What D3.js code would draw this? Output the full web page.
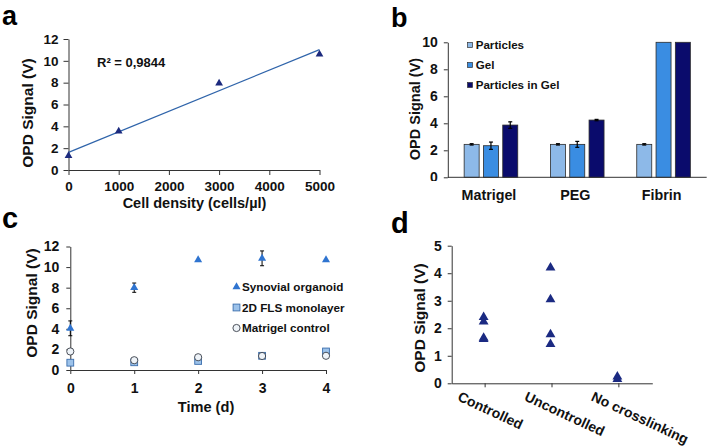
<!DOCTYPE html>
<html><head><meta charset="utf-8">
<script src="https://cdn.jsdelivr.net/npm/d3@7"></script>
<style>
html,body{margin:0;padding:0;background:#fff;}
svg{display:block;font-family:"Liberation Sans",Arial,sans-serif;font-weight:bold;}
</style></head><body>
<svg id="fig" width="709" height="446"></svg>
<script>
// ---------- Panel a data ----------
const aDensity = [0, 1000, 3000, 5000];
const aSignal = [1.3, 3.55, 7.95, 10.6];
const aXTicks = [0, 1000, 2000, 3000, 4000, 5000];
const aYTicks = [0, 2, 4, 6, 8, 10, 12];
const aR2Label = "R² = 0,9844";

// ---------- Panel b data ----------
const bCategories = ["Matrigel", "PEG", "Fibrin"];
const bSeries = ["Particles", "Gel", "Particles in Gel"];
const bParticles = [2.44, 2.44, 2.44];
const bGel = [2.34, 2.44, 10];
const bParticlesInGel = [3.87, 4.24, 10];
const bParticlesErr = [0.05, 0.05, 0.05];
const bGelErr = [0.27, 0.22, 0];
const bParticlesInGelErr = [0.24, 0.05, 0];
const bYTicks = [0, 2, 4, 6, 8, 10];

// ---------- Panel c data ----------
const cDays = [0, 1, 2, 3, 4];
const cSynovial = [4.05, 8.0, 10.7, 10.85, 10.7];
const cSynovialErr = [0.72, 0.45, 0, 0.72, 0];
const cFLS = [0.71, 0.75, 0.88, 1.38, 1.8];
const cFLSErr = [0, 0, 0, 0, 0.22];
const cMatrigel = [1.8, 0.95, 1.24, 1.36, 1.38];
const cSeries = ["Synovial organoid", "2D FLS monolayer", "Matrigel control"];
const cXTicks = [0, 1, 2, 3, 4];
const cYTicks = [0, 2, 4, 6, 8, 10, 12];

// ---------- Panel d data ----------
const dCategories = ["Controlled", "Uncontrolled", "No crosslinking"];
const dControlled = [2.4, 2.24, 1.6, 1.65];
const dUncontrolled = [4.2, 3.05, 1.78, 1.42];
const dNoCrosslinking = [0.24, 0.15];
const dYTicks = [0, 1, 2, 3, 4, 5];

const svg = d3.select("#fig");
const AX = "#333";
const tri = d3.symbol().type(d3.symbolTriangle);
const plain = d => String(d);

function styleAxis(g, fs) {
  g.select(".domain").attr("stroke", AX).attr("stroke-width", 1);
  g.selectAll(".tick line").attr("stroke", AX).attr("stroke-width", 1);
  g.selectAll(".tick text").attr("fill", "#111").attr("font-size", fs)
    .attr("font-family", '"Liberation Sans",Arial,sans-serif').attr("font-weight", "bold");
}
function panelLabel(t, x, y, fs) {
  svg.append("text").attr("x", x).attr("y", y).attr("font-size", fs).attr("fill", "#000").text(t);
}
function yTitle(x, y, fs) {
  svg.append("text").attr("transform", `translate(${x},${y}) rotate(-90)`)
    .attr("text-anchor", "middle").attr("font-size", fs).attr("fill", "#111").text("OPD Signal (V)");
}

// ================= Panel a =================
{
  const x = d3.scaleLinear().domain([0, 5000]).range([68.5, 319.5]);
  const y = d3.scaleLinear().domain([0, 12]).range([170, 39]);
  const g = svg.append("g");
  const gy = g.append("g").attr("transform", `translate(${x(0)},0)`)
    .call(d3.axisLeft(y).tickValues(aYTicks).tickFormat(plain).tickSize(5).tickSizeOuter(0).tickPadding(5));
  styleAxis(gy, 13.5);
  const gx = g.append("g").attr("transform", `translate(0,${y(0)})`)
    .call(d3.axisBottom(x).tickValues(aXTicks).tickFormat(plain).tickSize(5).tickSizeOuter(0).tickPadding(6));
  styleAxis(gx, 13.5);
  // linear regression trendline computed from the data
  const mx = d3.mean(aDensity), my = d3.mean(aSignal);
  const slope = d3.sum(aDensity, (d, i) => (d - mx) * (aSignal[i] - my)) / d3.sum(aDensity, d => (d - mx) ** 2);
  const icpt = my - slope * mx;
  g.append("line").attr("x1", x(0)).attr("y1", y(icpt)).attr("x2", x(5000)).attr("y2", y(icpt + slope * 5000))
    .attr("stroke", "#2F64AA").attr("stroke-width", 1.2);
  g.selectAll(".pa").data(aDensity).join("path")
    .attr("d", tri.size(26)).attr("transform", (d, i) => `translate(${x(d)},${y(aSignal[i])})`)
    .attr("fill", "#1C2A7E");
  g.append("text").attr("x", 97).attr("y", 67).attr("font-size", 13).attr("fill", "#111").text(aR2Label);
  yTitle(33, 113, 15.5);
  g.append("text").attr("x", 194.5).attr("y", 208).attr("text-anchor", "middle").attr("font-size", 14.5)
    .attr("fill", "#111").text("Cell density (cells/µl)");
  panelLabel("a", 2, 24.5, 27);
}

// ================= Panel b =================
{
  const x = d3.scaleBand().domain(bCategories).range([447.8, 706.7]);
  const y = d3.scaleLinear().domain([0, 10]).range([177.3, 42.3]);
  const colors = ["#8DB9E8", "#3A8DE2", "#0A0B6C"];
  const vals = [bParticles, bGel, bParticlesInGel];
  const errs = [bParticlesErr, bGelErr, bParticlesInGelErr];
  const barW = 15, step = 19.3;
  const g = svg.append("g");
  svg.append("defs").append("clipPath").attr("id", "clipB").append("rect")
    .attr("x", 380).attr("y", 0).attr("width", 120).attr("height", 181);
  const gy = g.append("g").attr("clip-path", "url(#clipB)").append("g").attr("transform", `translate(${x.range()[0]},0)`)
    .call(d3.axisLeft(y).tickValues(bYTicks).tickFormat(plain).tickSize(4).tickSizeOuter(0).tickPadding(6));
  styleAxis(gy, 14);
  bSeries.forEach((s, si) => {
    const cx = c => x(c) + x.bandwidth() / 2 + (si - 1) * step;
    g.selectAll(".bar" + si).data(bCategories).join("rect")
      .attr("x", c => cx(c) - barW / 2).attr("width", barW)
      .attr("y", (c, i) => y(vals[si][i])).attr("height", (c, i) => y(0) - y(vals[si][i]))
      .attr("fill", colors[si]).attr("stroke", "#2b2b2b").attr("stroke-width", 0.8);
    bCategories.forEach((c, i) => {
      const e = errs[si][i];
      if (e <= 0) return;
      const v = vals[si][i];
      g.append("line").attr("x1", cx(c)).attr("x2", cx(c)).attr("y1", y(v + e)).attr("y2", y(v - e))
        .attr("stroke", "#000").attr("stroke-width", 1.2);
      [v + e, v - e].forEach(t => g.append("line").attr("x1", cx(c) - 2).attr("x2", cx(c) + 2)
        .attr("y1", y(t)).attr("y2", y(t)).attr("stroke", "#000").attr("stroke-width", 1.2));
    });
  });
  g.append("line").attr("x1", x.range()[0]).attr("x2", x.range()[1]).attr("y1", y(0)).attr("y2", y(0))
    .attr("stroke", AX).attr("stroke-width", 1);
  g.selectAll(".bl").data(bCategories).join("text")
    .attr("x", c => x(c) + x.bandwidth() / 2 - 2).attr("y", 200).attr("text-anchor", "middle")
    .attr("font-size", 14.3).attr("fill", "#111").text(c => c);
  bSeries.forEach((s, si) => {
    const ly = 45 + si * 20;
    g.append("rect").attr("x", 467.5).attr("y", ly - 2.5).attr("width", 5).attr("height", 5)
      .attr("fill", colors[si]).attr("stroke", "#333").attr("stroke-width", 0.7);
    g.append("text").attr("x", 475.7).attr("y", ly + 4).attr("font-size", 11.6).attr("fill", "#111").text(s);
  });
  yTitle(420, 109, 14.5);
  panelLabel("b", 391, 27, 27);
}

// ================= Panel c =================
{
  const x = d3.scaleLinear().domain([0, 4]).range([70.3, 326]);
  const y = d3.scaleLinear().domain([0, 12]).range([370, 246.5]);
  const g = svg.append("g");
  const gy = g.append("g").attr("transform", `translate(${x(0)},0)`)
    .call(d3.axisLeft(y).tickValues(cYTicks).tickFormat(plain).tickSize(4).tickSizeOuter(0).tickPadding(7));
  styleAxis(gy, 14);
  const gx = g.append("g").attr("transform", `translate(0,${y(0)})`)
    .call(d3.axisBottom(x).tickValues(cXTicks).tickFormat(plain).tickSize(4).tickSizeOuter(0).tickPadding(9));
  styleAxis(gx, 14);
  const err = (vals, errs) => cDays.forEach((d, i) => {
    const e = errs[i]; if (e <= 0) return; const v = vals[i];
    g.append("line").attr("x1", x(d)).attr("x2", x(d)).attr("y1", y(v + e)).attr("y2", y(v - e)).attr("stroke", "#000").attr("stroke-width", 1);
    [v + e, v - e].forEach(t => g.append("line").attr("x1", x(d) - 2).attr("x2", x(d) + 2).attr("y1", y(t)).attr("y2", y(t)).attr("stroke", "#000").attr("stroke-width", 1));
  });
  err(cSynovial, cSynovialErr);
  err(cFLS, cFLSErr);
  g.selectAll(".sq").data(cDays).join("rect")
    .attr("x", d => x(d) - 3.4).attr("y", (d, i) => y(cFLS[i]) - 3.4).attr("width", 6.8).attr("height", 6.8)
    .attr("fill", "#9CC2EA").attr("stroke", "#3B6EAD").attr("stroke-width", 0.9);
  g.selectAll(".ci").data(cDays).join("circle")
    .attr("cx", d => x(d)).attr("cy", (d, i) => y(cMatrigel[i])).attr("r", 3.6)
    .attr("fill", "#EEF3F8").attr("stroke", "#3a3f4a").attr("stroke-width", 0.9);
  g.selectAll(".tr").data(cDays).join("path")
    .attr("d", tri.size(28)).attr("transform", (d, i) => `translate(${x(d)},${y(cSynovial[i])})`)
    .attr("fill", "#2F74D0");
  const lx = 236.5, lys = [287, 307.5, 328];
  g.append("path").attr("d", tri.size(28)).attr("transform", `translate(${lx},${lys[0]})`).attr("fill", "#2F74D0");
  g.append("rect").attr("x", lx - 3.4).attr("y", lys[1] - 3.4).attr("width", 6.8).attr("height", 6.8)
    .attr("fill", "#9CC2EA").attr("stroke", "#3B6EAD").attr("stroke-width", 0.9);
  g.append("circle").attr("cx", lx).attr("cy", lys[2]).attr("r", 3.6).attr("fill", "#EEF3F8").attr("stroke", "#3a3f4a").attr("stroke-width", 0.9);
  cSeries.forEach((s, i) => g.append("text").attr("x", 242).attr("y", lys[i] + 4.3).attr("font-size", 11.7).attr("fill", "#111").text(s));
  yTitle(37, 303, 15.5);
  g.append("text").attr("x", 206).attr("y", 412).attr("text-anchor", "middle").attr("font-size", 14.6).attr("fill", "#111").text("Time (d)");
  panelLabel("c", 2, 228, 29);
}

// ================= Panel d =================
{
  const x = d3.scaleBand().domain(dCategories).range([451.7, 652.3]);
  const y = d3.scaleLinear().domain([0, 5]).range([383.3, 245.7]);
  const g = svg.append("g");
  const gy = g.append("g").attr("transform", `translate(${x.range()[0]},0)`)
    .call(d3.axisLeft(y).tickValues(dYTicks).tickFormat(plain).tickSize(4).tickSizeOuter(0).tickPadding(6));
  styleAxis(gy, 14);
  const gx = g.append("g").attr("transform", `translate(0,${y(0)})`)
    .call(d3.axisBottom(x).tickSize(4).tickSizeOuter(0).tickFormat(""));
  styleAxis(gx, 14);
  const cx = c => x(c) + x.bandwidth() / 2 - 1.5;
  const groups = [dControlled, dUncontrolled, dNoCrosslinking];
  dCategories.forEach((c, ci) => {
    g.selectAll(".dt" + ci).data(groups[ci]).join("path")
      .attr("d", tri.size(42)).attr("transform", v => `translate(${cx(c)},${y(v)})`).attr("fill", "#1B2A82");
  });
  g.selectAll(".dl").data(dCategories).join("text")
    .attr("transform", c => `translate(${cx(c) - 27},${400}) rotate(25)`)
    .attr("font-size", 14).attr("fill", "#111").text(c => c);
  yTitle(425, 318, 15.5);
  panelLabel("d", 391, 233, 29);
}
</script></body></html>
